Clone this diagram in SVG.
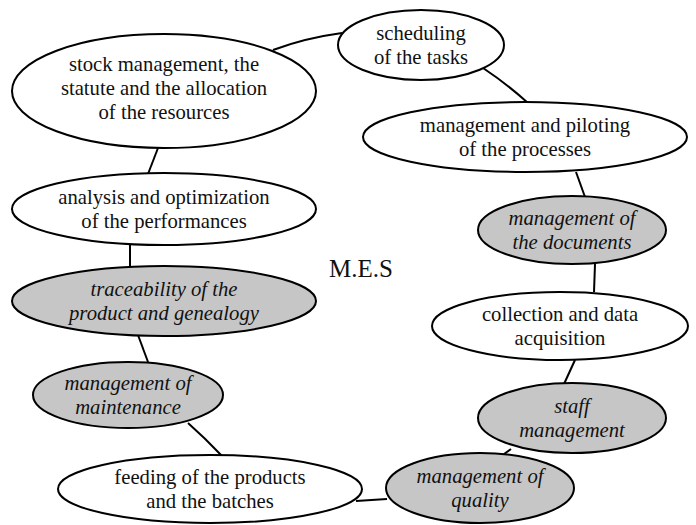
<svg xmlns="http://www.w3.org/2000/svg" width="696" height="525" viewBox="0 0 696 525">
<style>
.n{fill:#ffffff;stroke:#000;stroke-width:2}
.g{fill:#c6c6c6;stroke:#000;stroke-width:2}
text{font-family:"Liberation Serif","Times New Roman",serif;font-size:20.7px;fill:#111;text-anchor:middle}
.i{font-style:italic}
.c{fill:none;stroke:#000;stroke-width:2}
</style>
<rect width="696" height="525" fill="#fff"/>
<g id="connectors">
<path class="c" d="M273,50 Q305,38 342,33"/>
<path class="c" d="M483,68 Q507,84 528,103"/>
<path class="c" d="M576,172 L585,197"/>
<path class="c" d="M595,264 L594,292"/>
<path class="c" d="M575,360 L564,384"/>
<path class="c" d="M511,449 L500,457"/>
<path class="c" d="M387,499 L356,501"/>
<path class="c" d="M222,456 Q205,438 188,423"/>
<path class="c" d="M148,362 L138,335"/>
<path class="c" d="M130,266 L130,245"/>
<path class="c" d="M148,174 L158,148"/>
</g>
<g id="stock"><ellipse class="n" cx="164" cy="91" rx="152" ry="57"/>
<text x="164" y="71">stock management, the</text><text x="164" y="95">statute and the allocation</text><text x="164" y="119">of the resources</text></g>
<g id="scheduling"><ellipse class="n" cx="421" cy="45" rx="83" ry="35"/>
<text x="421" y="40">scheduling</text><text x="421" y="64">of the tasks</text></g>
<g id="piloting"><ellipse class="n" cx="525" cy="137" rx="162" ry="35"/>
<text x="525" y="132">management and piloting</text><text x="525" y="156">of the processes</text></g>
<g id="documents"><ellipse class="g" cx="572" cy="230" rx="94" ry="34"/>
<text class="i" x="572" y="225">management of</text><text class="i" x="572" y="249">the documents</text></g>
<g id="collection"><ellipse class="n" cx="560" cy="326" rx="128" ry="34"/>
<text x="560" y="321">collection and data</text><text x="560" y="345">acquisition</text></g>
<g id="staff"><ellipse class="g" cx="572" cy="418" rx="94" ry="35"/>
<text class="i" x="572" y="413">staff</text><text class="i" x="572" y="437">management</text></g>
<g id="quality"><ellipse class="g" cx="480" cy="488" rx="94" ry="35"/>
<text class="i" x="480" y="483">management of</text><text class="i" x="480" y="507">quality</text></g>
<g id="feeding"><ellipse class="n" cx="210" cy="489" rx="152" ry="34"/>
<text x="210" y="484">feeding of the products</text><text x="210" y="508">and the batches</text></g>
<g id="maintenance"><ellipse class="g" cx="128" cy="395" rx="95" ry="33"/>
<text class="i" x="128" y="390">management of</text><text class="i" x="128" y="414">maintenance</text></g>
<g id="traceability"><ellipse class="g" cx="164" cy="301" rx="152" ry="35"/>
<text class="i" x="164" y="296">traceability of the</text><text class="i" x="164" y="320">product and genealogy</text></g>
<g id="analysis"><ellipse class="n" cx="164" cy="209" rx="152" ry="36"/>
<text x="164" y="204">analysis and optimization</text><text x="164" y="228">of the performances</text></g>
<g id="mes"><text x="329" y="277" style="text-anchor:start;font-size:25px">M.E.S</text></g>
</svg>
